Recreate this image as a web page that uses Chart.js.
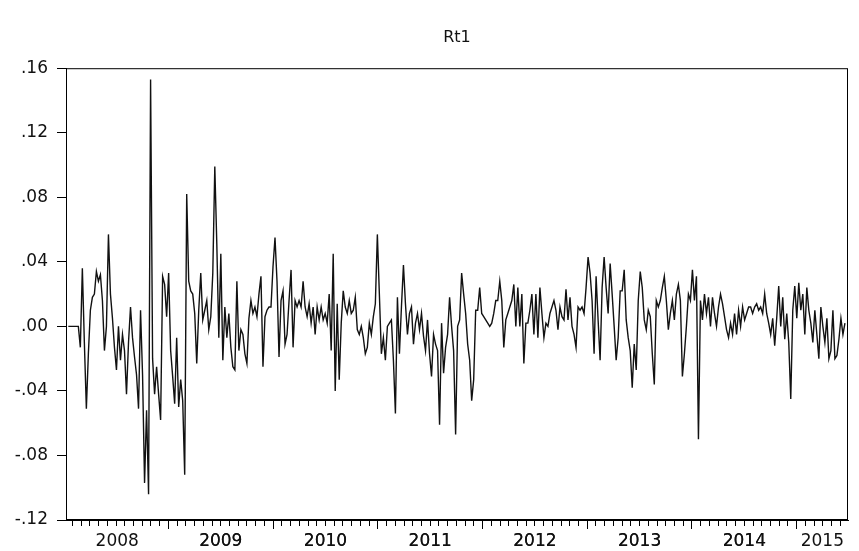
<!DOCTYPE html>
<html>
<head>
<meta charset="utf-8">
<script src="https://cdn.jsdelivr.net/npm/chart.js@4"></script>
<style>
    html, body { margin: 0; padding: 0; background: #fff; }
    #wrap { width: 859px; height: 551px; }
</style>
</head>
<body>
<div id="wrap"><canvas id="chart" width="859" height="551"></canvas></div>
<script>
// Weekly returns Rt1 (Jan 2008 - Jun 2015)
const rt1 = [
    0.000, 0.000, 0.000, 0.000, 0.000, 0.000, -0.013, 0.036, -0.010, -0.051, -0.017, 0.010, 0.018,
    0.020, 0.034, 0.028, 0.032, 0.016, -0.015, 0.000, 0.057, 0.020, 0.005, -0.013, -0.027, 0.000,
    -0.021, -0.005, -0.015, -0.042, -0.010, 0.012, -0.007, -0.019, -0.030, -0.051, 0.010, -0.030, -0.097,
    -0.052, -0.104, 0.153, -0.020, -0.042, -0.025, -0.042, -0.058, 0.031, 0.026, 0.006, 0.033, -0.015,
    -0.031, -0.048, -0.007, -0.050, -0.033, -0.046, -0.092, 0.082, 0.028, 0.022, 0.020, 0.008, -0.023,
    0.010, 0.033, 0.004, 0.010, 0.016, -0.002, 0.006, 0.033, 0.099, 0.051, -0.007, 0.045, -0.021,
    0.012, -0.007, 0.008, -0.013, -0.025, -0.027, 0.028, -0.015, -0.002, -0.005, -0.017, -0.023, 0.005,
    0.016, 0.008, 0.012, 0.006, 0.020, 0.031, -0.025, 0.006, 0.010, 0.012, 0.012, 0.037, 0.055,
    0.028, -0.019, 0.016, 0.022, -0.011, -0.005, 0.016, 0.035, -0.013, 0.016, 0.012, 0.016, 0.012,
    0.028, 0.012, 0.006, 0.014, 0.002, 0.012, -0.005, 0.012, 0.004, 0.012, 0.004, 0.008, 0.002,
    0.020, -0.015, 0.045, -0.040, 0.014, -0.033, 0.002, 0.022, 0.012, 0.008, 0.016, 0.008, 0.010,
    0.018, -0.002, -0.005, 0.000, -0.007, -0.017, -0.013, 0.002, -0.005, 0.006, 0.014, 0.057, 0.020,
    -0.017, -0.007, -0.021, 0.000, 0.002, 0.004, -0.021, -0.054, 0.018, -0.017, 0.012, 0.038, 0.014,
    -0.005, 0.008, 0.012, -0.011, 0.002, 0.008, -0.002, 0.008, -0.006, -0.015, 0.004, -0.017, -0.031,
    -0.005, -0.011, -0.015, -0.061, 0.002, -0.029, -0.013, -0.005, 0.018, 0.000, -0.015, -0.067, 0.000,
    0.004, 0.033, 0.020, 0.008, -0.011, -0.021, -0.046, -0.033, 0.010, 0.010, 0.024, 0.008, 0.006,
    0.004, 0.002, 0.000, 0.002, 0.008, 0.016, 0.016, 0.028, 0.016, -0.013, 0.004, 0.008, 0.012,
    0.016, 0.026, 0.000, 0.024, 0.000, 0.020, -0.023, 0.002, 0.002, 0.010, 0.020, -0.005, 0.020,
    -0.007, 0.024, 0.008, -0.007, 0.002, 0.000, 0.008, 0.012, 0.016, 0.010, -0.002, 0.012, 0.006,
    0.004, 0.023, 0.004, 0.018, 0.000, -0.005, -0.013, 0.012, 0.010, 0.012, 0.008, 0.024, 0.043,
    0.033, 0.016, -0.017, 0.031, 0.004, -0.021, 0.024, 0.043, 0.024, 0.008, 0.039, 0.020, 0.000,
    -0.021, -0.007, 0.022, 0.022, 0.035, 0.004, -0.007, -0.015, -0.038, -0.011, -0.027, 0.016, 0.034,
    0.024, 0.004, -0.002, 0.010, 0.006, -0.017, -0.036, 0.016, 0.012, 0.016, 0.024, 0.031, 0.016,
    -0.002, 0.008, 0.016, 0.004, 0.020, 0.026, 0.016, -0.031, -0.017, 0.000, 0.020, 0.016, 0.035,
    0.016, 0.031, -0.070, 0.016, 0.004, 0.020, 0.008, 0.018, 0.000, 0.018, 0.008, 0.000, 0.012,
    0.020, 0.014, 0.006, -0.002, -0.007, 0.002, -0.005, 0.008, -0.005, 0.010, 0.000, 0.012, 0.004,
    0.008, 0.012, 0.012, 0.008, 0.012, 0.014, 0.010, 0.012, 0.008, 0.020, 0.008, 0.002, -0.005,
    0.005, -0.012, 0.005, 0.025, 0.000, 0.018, -0.008, 0.008, -0.010, -0.045, 0.010, 0.025, 0.005,
    0.027, 0.010, 0.020, -0.005, 0.024, 0.010, 0.002, -0.010, 0.010, -0.005, -0.020, 0.012, 0.000,
    -0.010, 0.005, -0.020, -0.015, 0.010, -0.020, -0.018, -0.008, 0.005, -0.005, 0.002
];

const years = ['2008', '2009', '2010', '2011', '2012', '2013', '2014', '2015'];
const yTicks = [-0.12, -0.08, -0.04, 0.00, 0.04, 0.08, 0.12, 0.16];

// x runs in decimal years, one observation per week
const firstWeek = 2008.044;
const xMin = 2008.022;
const xMax = 2015.49;
const weeks = rt1.map((_, i) => firstWeek + i * 7 / 365.25);

// year labels sit in the middle of the visible part of each year
const yearLabelAt = years.map(y => {
    const lo = Math.max(+y, xMin);
    const hi = Math.min(+y + 1, xMax);
    return (lo + hi) / 2;
});

function fmtY(v) {
    const s = (Math.round(v * 100) / 100).toFixed(2);
    return s.replace('0.', '.');
}

const FONT = 'DejaVu Sans, sans-serif';

const frame = {
    id: 'frame',
    afterDraw(chart) {
        const a = chart.chartArea;
        const ctx = chart.ctx;
        ctx.save();
        ctx.strokeStyle = '#000';
        ctx.lineWidth = 1;
        ctx.strokeRect(a.left + 0.5, a.top + 0.5, a.right - a.left - 1, a.bottom - a.top - 1);
        ctx.restore();
    }
};

new Chart(document.getElementById('chart'), {
    type: 'line',
    data: {
        datasets: [{
            label: 'Rt1',
            data: weeks.map((w, i) => ({ x: w, y: rt1[i] })),
            borderColor: '#111',
            borderWidth: 1.4,
            pointRadius: 0,
            tension: 0,
            fill: false
        }]
    },
    options: {
        responsive: false,
        animation: false,
        layout: { padding: { left: 0, right: 11, top: 0, bottom: 0 } },
        plugins: {
            legend: { display: false },
            tooltip: { enabled: false },
            title: {
                display: true,
                fullSize: false,
                text: 'Rt1',
                color: '#111',
                font: { family: FONT, size: 16, weight: 'normal' },
                padding: { top: 28, bottom: 21 }
            }
        },
        scales: {
            x: {
                type: 'linear',
                min: xMin,
                max: xMax,
                afterFit: (scale) => { scale.height = 31; },
                afterBuildTicks: (scale) => {
                    const ticks = [];
                    for (let y = 2008; y <= 2015; y++) {
                        for (let m = 1; m < 12; m++) {
                            const v = y + m / 12;
                            if (v >= xMin && v <= xMax) ticks.push({ value: v });
                        }
                    }
                    yearLabelAt.forEach(v => ticks.push({ value: v, year: true }));
                    scale.ticks = ticks;
                },
                grid: {
                    drawOnChartArea: false,
                    tickLength: 6,
                    tickColor: (ctx) => (ctx.tick && ctx.tick.year) ? 'rgba(0,0,0,0)' : '#000'
                },
                border: { display: true, color: '#000', width: 1 },
                ticks: {
                    autoSkip: false,
                    maxRotation: 0,
                    padding: 5,
                    color: '#111',
                    font: { family: FONT, size: 17 },
                    callback: (value) => {
                        const k = yearLabelAt.findIndex(v => Math.abs(v - value) < 1e-9);
                        return k >= 0 ? years[k] : '';
                    }
                }
            },
            // longer marks at each new year, sharing the bottom edge
            xYear: {
                type: 'linear',
                position: 'bottom',
                weight: -1,
                min: xMin,
                max: xMax,
                afterFit: (scale) => { scale.height = 0; },
                afterBuildTicks: (scale) => {
                    scale.ticks = years.map(y => ({ value: +y })).filter(t => t.value >= xMin && t.value <= xMax);
                },
                grid: {
                    drawOnChartArea: false,
                    tickLength: 9,
                    tickColor: '#000'
                },
                border: { display: false },
                ticks: { display: false }
            },
            y: {
                min: -0.12,
                max: 0.16,
                afterFit: (scale) => { scale.width = 66; },
                afterBuildTicks: (scale) => {
                    scale.ticks = yTicks.map(v => ({ value: v }));
                },
                grid: {
                    drawOnChartArea: false,
                    tickLength: 9,
                    tickColor: '#000'
                },
                border: { display: true, color: '#000', width: 1 },
                ticks: {
                    padding: 9,
                    color: '#111',
                    font: { family: FONT, size: 17 },
                    callback: (value) => fmtY(value)
                }
            }
        }
    },
    plugins: [frame]
});
</script>
</body>
</html>
